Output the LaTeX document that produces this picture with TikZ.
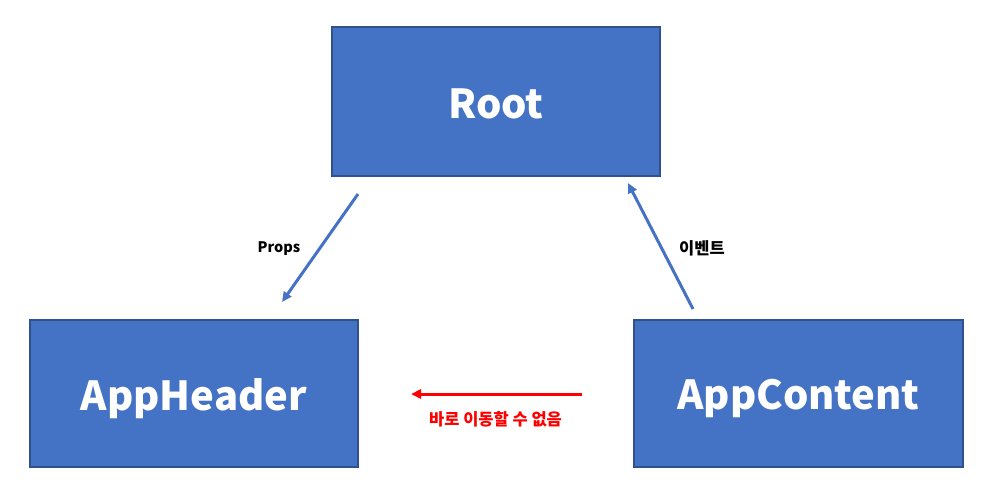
\documentclass[tikz,border=0pt]{standalone}
\usepackage{fontspec}
\setmainfont{Noto Sans CJK KR}
\usetikzlibrary{arrows.meta}
\definecolor{boxfill}{HTML}{4472C4}
\definecolor{boxline}{HTML}{2F528F}
\definecolor{arrblue}{HTML}{4472C4}
\definecolor{arrred}{HTML}{FF0000}
\tikzset{
  box/.style={draw=boxline, line width=2pt, fill=boxfill, rectangle, inner sep=0pt},
  boxtext/.style={text=white, inner sep=0pt, font=\fontsize{40}{48}\selectfont\bfseries},
  bluearrow/.style={draw=arrblue, line width=3pt, -{Triangle[length=10pt,width=9pt]}},
  redarrow/.style={draw=arrred, line width=3pt, -{Triangle[length=10pt,width=9pt]}},
  lbl/.style={font=\fontsize{14.5}{17}\selectfont\bfseries, inner sep=0pt},
  klbl/.style={font=\fontsize{16.5}{19}\selectfont\bfseries, inner sep=0pt},
}
\begin{document}
\begin{tikzpicture}[x=1pt,y=-1pt]
\useasboundingbox (0,0) rectangle (989,496);
\node[box, minimum width=328pt, minimum height=149pt] (root) at (496,101.5) {};
\node[box, minimum width=328pt, minimum height=147pt] (header) at (194,393.5) {};
\node[box, minimum width=329pt, minimum height=147pt] (content) at (798.5,393.5) {};
\node[boxtext] (roott) at ([yshift=-2.5pt]root.center) {Root};
\node[boxtext] (headert) at ([yshift=-5pt]header.center) {AppHeader};
\node[boxtext] (contentt) at ([yshift=-5pt]content.center) {AppContent};
\coordinate (pa) at (358,194);
\coordinate (pb) at (282,302);
\coordinate (ea) at (693,309);
\coordinate (eb) at (628,183);
\coordinate (ra) at (582,394);
\coordinate (rb) at (411,394);
\draw[bluearrow] (pa) -- (pb);
\draw[bluearrow] (ea) -- (eb);
\draw[redarrow] (ra) -- (rb);
\node[lbl, text=black] (props) at (279,249) {Props};
\node[klbl, text=black] (event) at (702,248) {이벤트};
\node[klbl, text=arrred] (nomove) at (495.5,419.5) {바로 이동할 수 없음};
\end{tikzpicture}
\end{document}
